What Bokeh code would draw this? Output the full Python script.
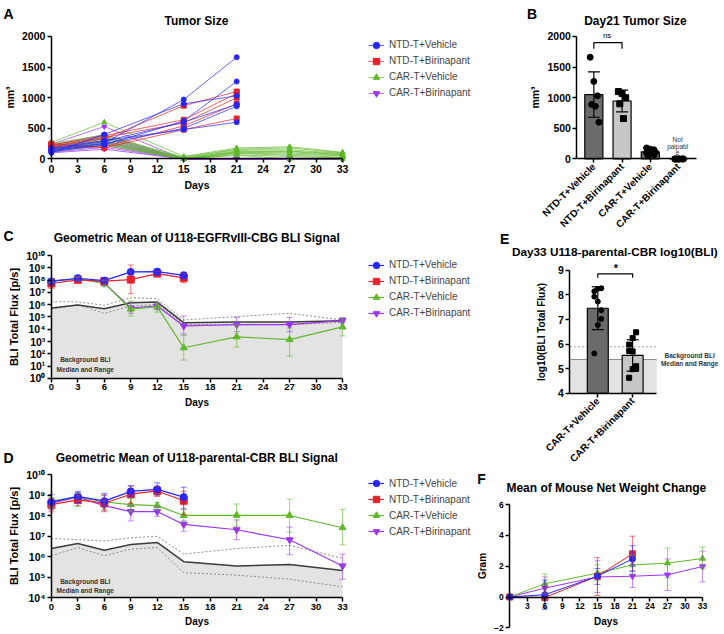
import math
import numpy as np
from bokeh.plotting import figure
from bokeh.models import (Range1d, FixedTicker, Label, Legend, LegendItem, Whisker,
                          ColumnDataSource, TeeHead, BoxAnnotation)
from bokeh.layouts import row, column
from bokeh.embed import file_html
from bokeh.resources import INLINE

FONT = "Liberation Sans"
SX = 722 / 724
SY = 632 / 634

# ---------------- data ----------------
groups = ["NTD-T+Vehicle", "NTD-T+Birinapant", "CAR-T+Vehicle", "CAR-T+Birinapant"]
colors = ["#2626ff", "#e5222b", "#62b82d", "#9b35f0"]
markers = ["circle", "square", "triangle", "inverted_triangle"]

# Panel A: individual tumour volumes (mm3)
days_a_ntd = [0, 6, 15, 21]
days_a_car = [0, 6, 15, 21, 27, 33]
a_ntd_vehicle = [
    [150, 260, 970, 1660],
    [120, 230, 620, 1265],
    [100, 400, 900, 1030],
    [160, 290, 600, 890],
    [130, 250, 500, 860],
    [180, 300, 480, 600],
]
a_ntd_birinapant = [
    [200, 330, 870, 1100],
    [230, 380, 640, 1070],
    [210, 350, 590, 1000],
    [190, 200, 540, 900],
    [250, 180, 480, 660],
]
a_car_vehicle = [
    [270, 600, 40, 180, 200, 110],
    [250, 390, 30, 160, 180, 100],
    [230, 370, 20, 150, 150, 90],
    [210, 350, 10, 130, 130, 80],
    [190, 330, 0, 120, 120, 70],
    [180, 300, 0, 110, 100, 60],
    [160, 280, 0, 100, 80, 50],
    [150, 260, 0, 90, 60, 30],
    [140, 240, 0, 70, 40, 20],
    [120, 220, 0, 60, 0, 0],
]
a_car_birinapant = [
    [240, 530, 0, 0, 0, 0],
    [220, 400, 0, 0, 0, 0],
    [200, 360, 0, 0, 0, 0],
    [180, 330, 0, 0, 0, 0],
    [170, 300, 0, 0, 0, 0],
    [150, 280, 0, 0, 0, 0],
    [140, 250, 0, 0, 0, 0],
    [120, 220, 0, 0, 0, 0],
    [110, 190, 0, 0, 0, 0],
    [100, 160, 0, 0, 0, 0],
]
a_yticks = [0, 500, 1000, 1500, 2000]
day_ticks = list(range(0, 34, 3))

# Panel B: day-21 tumour size, taken from the day-21 column of panel A
b_sig_level = 1898
b_sig_drop = 1800

# Panel C: geometric mean log10(BLI) of U118-EGFRvIII-CBG
days_ntd = [0, 3, 6, 9, 12, 15]
days_car = [0, 3, 6, 9, 12, 15, 21, 27, 33]
c_ntd_vehicle = [7.90, 8.16, 7.97, 8.68, 8.70, 8.40]
c_ntd_vehicle_lo = [7.68, 7.95, 7.75, 8.50, 8.40, 8.10]
c_ntd_vehicle_hi = [8.10, 8.40, 8.20, 8.85, 8.95, 8.65]
c_ntd_birinapant = [7.73, 8.03, 7.92, 8.05, 8.54, 8.19]
c_ntd_birinapant_lo = [7.34, 7.85, 7.70, 6.90, 8.35, 7.78]
c_ntd_birinapant_hi = [8.00, 8.20, 8.10, 9.24, 8.70, 8.54]
c_car_vehicle = [7.95, 8.11, 7.76, 5.65, 5.84, 2.49, 3.38, 3.16, 4.19]
c_car_vehicle_lo = [7.80, 7.95, 7.45, 5.08, 5.40, 1.49, 2.55, 1.80, 3.46]
c_car_vehicle_hi = [8.10, 8.25, 8.00, 6.30, 6.16, 3.51, 4.40, 4.10, 4.95]
c_car_birinapant = [7.95, 8.10, 7.78, 5.73, 5.90, 4.27, 4.38, 4.38, 4.70]
c_car_birinapant_lo = [7.80, 7.90, 7.55, 5.30, 5.60, 3.60, 3.80, 3.80, 4.50]
c_car_birinapant_hi = [8.10, 8.30, 8.00, 6.20, 6.15, 5.08, 4.95, 4.95, 4.95]
c_bg_median = [5.73, 5.97, 5.68, 6.16, 6.22, 4.54, 4.60, 4.60, 4.70]
c_bg_max = [6.24, 6.24, 5.95, 6.57, 6.49, 4.76, 5.03, 5.30, 4.76]
c_bg_min = [5.62, 6.00, 5.30, 5.89, 6.03, 4.40, 4.35, 4.38, 4.57]
c_decades = list(range(0, 11))

# Panel D: geometric mean log10(BLI) of U118-parental-CBR
d_ntd_vehicle = [8.68, 8.95, 8.72, 9.20, 9.30, 8.92]
d_ntd_vehicle_lo = [8.30, 8.65, 8.45, 8.95, 9.00, 8.35]
d_ntd_vehicle_hi = [9.05, 9.20, 9.10, 9.48, 9.62, 9.40]
d_ntd_birinapant = [8.55, 8.78, 8.62, 9.06, 9.22, 8.74]
d_ntd_birinapant_lo = [8.20, 8.50, 8.25, 8.60, 8.95, 8.05]
d_ntd_birinapant_hi = [8.85, 9.00, 9.00, 9.45, 9.45, 9.20]
d_car_vehicle = [8.72, 8.93, 8.68, 8.55, 8.50, 8.02, 8.03, 8.02, 7.42]
d_car_vehicle_lo = [8.45, 8.45, 8.30, 8.20, 8.30, 7.70, 7.50, 7.20, 6.58]
d_car_vehicle_hi = [8.90, 9.10, 9.05, 8.85, 8.65, 8.30, 8.58, 8.82, 8.32]
d_car_birinapant = [8.62, 8.92, 8.50, 8.21, 8.21, 7.58, 7.32, 6.83, 5.55]
d_car_birinapant_lo = [8.40, 8.60, 8.20, 7.75, 7.98, 7.25, 6.83, 6.10, 4.90]
d_car_birinapant_hi = [8.80, 9.15, 8.75, 8.50, 8.45, 7.75, 7.80, 7.45, 6.13]
d_bg_median = [6.40, 6.65, 6.32, 6.60, 6.70, 5.76, 5.55, 5.62, 5.33]
d_bg_max = [6.89, 6.84, 6.77, 6.93, 7.00, 6.13, 6.40, 6.56, 5.92]
d_bg_min = [6.05, 6.45, 6.05, 6.37, 6.45, 5.22, 5.10, 4.90, 4.53]
d_decades = list(range(4, 11))

# Panel E: day-33 log10(BLI)
e_groups = ["CAR-T+Vehicle", "CAR-T+Birinapant"]
e_car_vehicle = [8.27, 8.25, 8.15, 7.93, 7.73, 7.38, 7.02, 6.78, 5.62]
e_car_birinapant = [6.48, 6.25, 5.98, 5.72, 5.70, 5.10, 5.00, 4.98, 4.63]
e_bg_median = 5.35
e_bg_max = 5.89
e_bg_min = 4.55
e_sig_level = 8.86
e_sig_drop = 8.70
e_yticks = [4, 5, 6, 7, 8, 9]

# Panel F: mean net weight change (g)
days_f_ntd = [0, 6, 15, 21]
days_f_car = [0, 6, 15, 21, 27, 33]
f_ntd_vehicle = [0, 0.15, 1.35, 2.47]
f_ntd_vehicle_lo = [0, -0.80, 0.82, 1.65]
f_ntd_vehicle_hi = [0, 1.10, 1.85, 3.33]
f_ntd_birinapant = [0, -0.03, 1.35, 2.80]
f_ntd_birinapant_lo = [0, -0.70, 0.10, 1.70]
f_ntd_birinapant_hi = [0, 0.70, 2.55, 3.95]
f_car_vehicle = [0, 0.86, 1.55, 2.08, 2.20, 2.50]
f_car_vehicle_lo = [0, 0.20, 1.05, 1.50, 1.25, 1.83]
f_car_vehicle_hi = [0, 1.50, 2.10, 2.70, 3.18, 3.25]
f_car_birinapant = [0, 0.58, 1.30, 1.35, 1.44, 1.98]
f_car_birinapant_lo = [0, -0.10, 0.30, 0.62, 0.42, 0.98]
f_car_birinapant_hi = [0, 1.30, 2.35, 2.10, 2.47, 2.98]
f_yticks = [-2, 0, 2, 4, 6]
f_xticks = list(range(3, 34, 3))

SUP = str.maketrans("0123456789", "⁰¹²³⁴⁵⁶⁷⁸⁹")


def pow_label(k):
    return "10" + str(k).translate(SUP)


# ---------------- helpers ----------------
LEFT_W = 472
RIGHT_W = 722 - LEFT_W


def make_fig(ox, oy, W, H, xmap, ymap, log=False):
    """xmap/ymap: (data0, ref0, data1, ref1) -> the frame fills the whole canvas."""
    d0, r0, d1, r1 = xmap
    c0, c1 = r0 * SX - ox, r1 * SX - ox
    kx = (d1 - d0) / (c1 - c0)
    xs, xe = d0 - c0 * kx, d0 + (W - c0) * kx
    e0, q0, e1, q1 = ymap
    g0, g1 = q0 * SY - oy, q1 * SY - oy
    ky = (e1 - e0) / (g1 - g0)
    ytop, ybot = e0 - g0 * ky, e0 + (H - g0) * ky
    yr = Range1d(10 ** ybot, 10 ** ytop) if log else Range1d(ybot, ytop)
    p = figure(width=W, height=H, x_range=Range1d(xs, xe), y_range=yr,
               y_axis_type="log" if log else "linear",
               output_backend="svg", toolbar_location=None, min_border=0)
    p.title.visible = False
    p.outline_line_color = None
    p.grid.visible = False
    return p, dict(ox=ox, oy=oy, W=W, H=H)


def text(p, geo, s, rx, ry, size, style="bold", align="center", baseline="middle", color="black"):
    x = rx * SX - geo["ox"]
    y = geo["H"] - (ry * SY - geo["oy"])
    p.add_layout(Label(x=x, y=y, x_units="screen", y_units="screen", text=s,
                       text_font=FONT, text_font_size=size, text_font_style=style,
                       text_align=align, text_baseline=baseline, text_color=color))


def axes_style(p, xloc, yloc, xbounds, ybounds, tick_size="10px", label_size="10px"):
    for ax in p.axis:
        ax.axis_line_width = 1.5
        ax.axis_line_color = "black"
        ax.major_tick_line_width = 1.5
        ax.major_tick_line_color = "black"
        ax.major_tick_out = 4
        ax.major_tick_in = 0
        ax.minor_tick_line_color = None
        ax.major_label_text_font = FONT
        ax.major_label_text_font_style = "bold"
        ax.major_label_text_font_size = tick_size
        ax.major_label_text_color = "black"
        ax.major_label_standoff = 2
        ax.axis_label_text_font = FONT
        ax.axis_label_text_font_style = "bold"
        ax.axis_label_text_font_size = label_size
        ax.axis_label_text_color = "black"
        ax.axis_label_standoff = 3
    p.xaxis.fixed_location = xloc
    p.yaxis.fixed_location = yloc
    p.xaxis.bounds = xbounds
    p.yaxis.bounds = ybounds


def add_legend(p, geo, items, ref_left, ref_top):
    row_h = 16.5
    x = ref_left * SX - geo["ox"]
    ytop = geo["H"] - (ref_top * SY - geo["oy"])
    leg = Legend(items=items, location=(x, ytop - row_h * len(items)),
                 padding=0, margin=0, spacing=0, glyph_width=16, glyph_height=16,
                 label_height=16, label_standoff=5, label_text_font=FONT,
                 label_text_font_size="10px", border_line_color=None,
                 background_fill_alpha=0)
    p.add_layout(leg)


def series(p, days, vals, lo, hi, color, marker, size, lw, tf):
    ln = p.line(list(days), tf(vals), line_color=color, line_width=lw)
    keep = [i for i in range(len(days)) if hi[i] != lo[i]]
    src = ColumnDataSource(dict(x=[days[i] for i in keep],
                                lo=tf([lo[i] for i in keep]), hi=tf([hi[i] for i in keep])))
    p.add_layout(Whisker(source=src, base="x", upper="hi", lower="lo", dimension="height",
                         line_color=color, line_alpha=0.6, line_width=1, level="glyph",
                         upper_head=TeeHead(size=6, line_color=color, line_alpha=0.6, line_width=1),
                         lower_head=TeeHead(size=6, line_color=color, line_alpha=0.6, line_width=1)))
    sc = p.scatter(list(days), tf(vals), marker=marker, size=size, fill_color=color, line_color=color)
    return ln, sc


def log_tf(v):
    return [10 ** a for a in v]


def lin_tf(v):
    return list(v)


# ---------------- Panel A ----------------
pA, gA = make_fig(0, 0, LEFT_W, 199, (0, 51, 33, 343), (0, 159, 2000, 36))
a_sets = [(days_a_ntd, a_ntd_vehicle), (days_a_ntd, a_ntd_birinapant),
          (days_a_car, a_car_vehicle), (days_a_car, a_car_birinapant)]
a_items = [None] * 4
for gi in [3, 2, 1, 0]:
    days, mice = a_sets[gi]
    ml = pA.multi_line([list(days)] * len(mice), [list(m) for m in mice],
                       line_color=colors[gi], line_alpha=0.7, line_width=1)
    xs = [d for m in mice for d in days]
    ys = [v for m in mice for v in m]
    sc = pA.scatter(xs, ys, marker=markers[gi], size=5, fill_color=colors[gi], line_color=colors[gi])
    a_items[gi] = LegendItem(label=groups[gi], renderers=[ml, sc])
axes_style(pA, 0, 0, (day_ticks[0], day_ticks[-1]), (a_yticks[0], a_yticks[-1]),
           tick_size="10.5px", label_size="10.5px")
pA.xaxis.ticker = FixedTicker(ticks=day_ticks)
pA.yaxis.ticker = FixedTicker(ticks=a_yticks)
pA.xaxis.axis_label = "Days"
pA.yaxis.axis_label = "mm³"
add_legend(pA, gA, a_items, 369, 34.7)
text(pA, gA, "A", 3, 13.5, "14px", align="left", baseline="alphabetic")
text(pA, gA, "Tumor Size", 196.5, 20.5, "12px", baseline="alphabetic")

# ---------------- Panel B ----------------
pB, gB = make_fig(LEFT_W, 0, RIGHT_W, 229, (-0.6, 578, 3.64, 698), (0, 159, 2000, 36))
b_sets = [[m[days_a_ntd.index(21)] for m in a_ntd_vehicle],
          [m[days_a_ntd.index(21)] for m in a_ntd_birinapant],
          [m[days_a_car.index(21)] for m in a_car_vehicle],
          [m[days_a_car.index(21)] for m in a_car_birinapant]]
b_pos = list(range(len(groups)))
b_mean = [float(np.mean(v)) for v in b_sets]
b_sd = [float(np.std(v, ddof=1)) for v in b_sets]
bar_colors = ["#6b6b6b", "#c6c6c6", "#6b6b6b", "#c6c6c6"]
pB.vbar(x=b_pos, top=b_mean, bottom=0, width=0.64, fill_color=bar_colors,
        line_color="black", line_width=1.2)
wsrc = ColumnDataSource(dict(x=[b_pos[i] for i in range(4) if b_sd[i] > 0],
                             lo=[b_mean[i] - b_sd[i] for i in range(4) if b_sd[i] > 0],
                             hi=[b_mean[i] + b_sd[i] for i in range(4) if b_sd[i] > 0]))
pB.add_layout(Whisker(source=wsrc, base="x", upper="hi", lower="lo", line_color="black",
                      line_width=1.2, level="glyph",
                      upper_head=TeeHead(size=12, line_color="black", line_width=1.2),
                      lower_head=TeeHead(size=12, line_color="black", line_width=1.2)))
b_markers = ["circle", "square", "circle", "circle"]
for gi, vals in enumerate(b_sets):
    n = len(vals)
    jit = [((k % 3) - 1) * 0.13 + ((k // 3) % 2) * 0.05 for k in range(n)]
    pB.scatter([b_pos[gi] + j for j in jit], vals, marker=b_markers[gi], size=6,
               fill_color="black", line_color="black")
pB.line([b_pos[0], b_pos[0], b_pos[1], b_pos[1]], [b_sig_drop, b_sig_level, b_sig_level, b_sig_drop],
        line_color="black", line_width=1.2)
axes_style(pB, 0, -0.6, (-0.6, 3.64), (a_yticks[0], a_yticks[-1]),
           tick_size="10.5px", label_size="10.5px")
pB.xaxis.ticker = FixedTicker(ticks=b_pos)
pB.xaxis.major_label_overrides = {i: g for i, g in enumerate(groups)}
pB.xaxis.major_label_orientation = math.pi / 4
pB.xaxis.major_label_text_font_size = "10px"
pB.yaxis.ticker = FixedTicker(ticks=a_yticks)
pB.yaxis.axis_label = "mm³"
text(pB, gB, "B", 528, 13.5, "14px", align="left", baseline="alphabetic")
text(pB, gB, "Day21 Tumor Size", 636.7, 20.5, "12px", baseline="alphabetic")
text(pB, gB, "ns", 608.3, 35, "8px", style="normal")
text(pB, gB, "Not", 679, 139, "6.5px", style="normal", color="#333333")
text(pB, gB, "palpabl", 679, 146, "6.5px", style="normal", color="#333333")
text(pB, gB, "e", 679, 152.5, "6.5px", style="normal", color="#333333")


# ---------------- Panels C and D ----------------
def bli_panel(oy, H, ymap, decades, ntd_v, ntd_v_lo, ntd_v_hi, ntd_b, ntd_b_lo, ntd_b_hi,
              car_v, car_v_lo, car_v_hi, car_b, car_b_lo, car_b_hi, bg_med, bg_max, bg_min):
    p, g = make_fig(0, oy, LEFT_W, H, (0, 51, 33, 343), ymap, log=True)
    ymin = 10.0 ** decades[0]
    p.varea(x=days_car, y1=[ymin] * len(days_car), y2=log_tf(bg_med),
            fill_color="#e3e3e3", level="underlay")
    p.line(days_car, log_tf(bg_max), line_color="#8c8c8c", line_width=1, line_dash="2 2", level="underlay")
    p.line(days_car, log_tf(bg_min), line_color="#8c8c8c", line_width=1, line_dash="2 2", level="underlay")
    p.line(days_car, log_tf(bg_med), line_color="#3c3c3c", line_width=1.5, level="underlay")
    sets = [(days_ntd, ntd_v, ntd_v_lo, ntd_v_hi), (days_ntd, ntd_b, ntd_b_lo, ntd_b_hi),
            (days_car, car_v, car_v_lo, car_v_hi), (days_car, car_b, car_b_lo, car_b_hi)]
    items = [None] * 4
    for gi in [3, 2, 1, 0]:
        d, v, lo, hi = sets[gi]
        ln, sc = series(p, d, v, lo, hi, colors[gi], markers[gi], 7, 1.2, log_tf)
        items[gi] = LegendItem(label=groups[gi], renderers=[ln, sc])
    axes_style(p, ymin, 0, (day_ticks[0], day_ticks[-1]), (ymin, 10.0 ** decades[-1]),
               tick_size="9.5px", label_size="11px")
    p.yaxis.major_label_text_font_size = "10.5px"
    p.xaxis.ticker = FixedTicker(ticks=day_ticks)
    p.yaxis.ticker = FixedTicker(ticks=[10.0 ** k for k in decades])
    p.yaxis.major_label_overrides = {10.0 ** k: pow_label(k) for k in decades}
    p.xaxis.axis_label = "Days"
    p.xaxis.axis_label_text_font_size = "10px"
    p.yaxis.axis_label = "BLI Total Flux [p/s]"
    return p, g, items


pC, gC, c_items = bli_panel(199, 218, (0, 379, 10, 256), c_decades,
                            c_ntd_vehicle, c_ntd_vehicle_lo, c_ntd_vehicle_hi,
                            c_ntd_birinapant, c_ntd_birinapant_lo, c_ntd_birinapant_hi,
                            c_car_vehicle, c_car_vehicle_lo, c_car_vehicle_hi,
                            c_car_birinapant, c_car_birinapant_lo, c_car_birinapant_hi,
                            c_bg_median, c_bg_max, c_bg_min)
add_legend(pC, gC, c_items, 369, 255.7)
text(pC, gC, "C", 3, 236.5, "14px", align="left", baseline="alphabetic")
text(pC, gC, "Geometric Mean of U118-EGFRvIII-CBG BLI Signal", 196.8, 238.5, "12px", baseline="alphabetic")
text(pC, gC, "Background BLI", 85, 360.3, "6.5px", color="#333333")
text(pC, gC, "Median and Range", 85, 370.6, "6.5px", color="#333333")

pD, gD, d_items = bli_panel(417, 215, (4, 599, 10, 476), d_decades,
                            d_ntd_vehicle, d_ntd_vehicle_lo, d_ntd_vehicle_hi,
                            d_ntd_birinapant, d_ntd_birinapant_lo, d_ntd_birinapant_hi,
                            d_car_vehicle, d_car_vehicle_lo, d_car_vehicle_hi,
                            d_car_birinapant, d_car_birinapant_lo, d_car_birinapant_hi,
                            d_bg_median, d_bg_max, d_bg_min)
add_legend(pD, gD, d_items, 369, 474.5)
text(pD, gD, "D", 3, 458.5, "14px", align="left", baseline="alphabetic")
text(pD, gD, "Geometric Mean of U118-parental-CBR BLI Signal", 196.8, 458.5, "12px", baseline="alphabetic")
text(pD, gD, "Background BLI", 85, 583.3, "6.5px", color="#333333")
text(pD, gD, "Median and Range", 85, 592.2, "6.5px", color="#333333")

# ---------------- Panel E ----------------
E_X0, E_X1, E_Y0 = -0.8, 1.69, 4
pE, gE = make_fig(LEFT_W, 229, RIGHT_W, 238, (E_X0, 571, E_X1, 658), (4, 394, 9, 270.7))
pE.add_layout(BoxAnnotation(left=E_X0, right=E_X1, bottom=E_Y0, top=e_bg_median,
                            fill_color="#e3e3e3", fill_alpha=1, line_color=None, level="underlay"))
pE.line([E_X0, E_X1], [e_bg_max, e_bg_max], line_color="#a0a0a0", line_dash="2 2", line_width=1, level="underlay")
pE.line([E_X0, E_X1], [e_bg_min, e_bg_min], line_color="#a0a0a0", line_dash="2 2", line_width=1, level="underlay")
pE.line([E_X0, E_X1], [e_bg_median, e_bg_median], line_color="#8e8e8e", line_width=2, level="underlay")
e_sets = [e_car_vehicle, e_car_birinapant]
e_pos = [0, 1]
e_mean = [float(np.mean(v)) for v in e_sets]
e_sd = [float(np.std(v, ddof=1)) for v in e_sets]
pE.vbar(x=e_pos, top=e_mean, bottom=E_Y0, width=0.6, fill_color=["#6b6b6b", "#c6c6c6"],
        line_color="black", line_width=1.2)
esrc = ColumnDataSource(dict(x=e_pos, lo=[m - s for m, s in zip(e_mean, e_sd)],
                             hi=[m + s for m, s in zip(e_mean, e_sd)]))
pE.add_layout(Whisker(source=esrc, base="x", upper="hi", lower="lo", line_color="black",
                      line_width=1.2, level="glyph",
                      upper_head=TeeHead(size=12, line_color="black", line_width=1.2),
                      lower_head=TeeHead(size=12, line_color="black", line_width=1.2)))
e_markers = ["circle", "square"]
for gi, vals in enumerate(e_sets):
    jit = [((k % 3) - 1) * 0.1 * ((k % 2) * 2 - 1) for k in range(len(vals))]
    pE.scatter([e_pos[gi] + j for j in jit], vals, marker=e_markers[gi], size=5,
               fill_color="black", line_color="black")
pE.line([e_pos[0], e_pos[0], e_pos[1], e_pos[1]], [e_sig_drop, e_sig_level, e_sig_level, e_sig_drop],
        line_color="black", line_width=1.2)
axes_style(pE, E_Y0, E_X0, (E_X0, E_X1), (e_yticks[0], e_yticks[-1]),
           tick_size="10.5px", label_size="10px")
pE.xaxis.ticker = FixedTicker(ticks=e_pos)
pE.xaxis.major_label_overrides = {i: g for i, g in enumerate(e_groups)}
pE.xaxis.major_label_orientation = math.pi / 4
pE.xaxis.major_label_text_font_size = "10px"
pE.yaxis.ticker = FixedTicker(ticks=e_yticks)
pE.yaxis.axis_label = "log10(BLI Total Flux)"
pE.yaxis.axis_label_standoff = 8
text(pE, gE, "E", 501, 239.5, "14px", align="left", baseline="alphabetic")
text(pE, gE, "Day33 U118-parental-CBR log10(BLI)", 616, 252.5, "11.8px", baseline="alphabetic")
text(pE, gE, "*", 617, 268, "11px")
text(pE, gE, "Background BLI", 691, 355.7, "6.5px", color="#333333")
text(pE, gE, "Median and Range", 691, 364.3, "6.5px", color="#333333")

# ---------------- Panel F ----------------
pF, gF = make_fig(LEFT_W, 467, RIGHT_W, 165, (0, 510.7, 33, 704), (-2, 629.3, 6, 505.7))
f_sets = [(days_f_ntd, f_ntd_vehicle, f_ntd_vehicle_lo, f_ntd_vehicle_hi),
          (days_f_ntd, f_ntd_birinapant, f_ntd_birinapant_lo, f_ntd_birinapant_hi),
          (days_f_car, f_car_vehicle, f_car_vehicle_lo, f_car_vehicle_hi),
          (days_f_car, f_car_birinapant, f_car_birinapant_lo, f_car_birinapant_hi)]
for gi in [3, 2, 1, 0]:
    d, v, lo, hi = f_sets[gi]
    series(pF, d, v, lo, hi, colors[gi], markers[gi], 6, 1, lin_tf)
axes_style(pF, 0, 0, (0, 33), (f_yticks[0], f_yticks[-1]), tick_size="8.5px", label_size="10px")
pF.xaxis.ticker = FixedTicker(ticks=f_xticks)
pF.yaxis.ticker = FixedTicker(ticks=f_yticks)
pF.xaxis.axis_label = "Days"
pF.yaxis.axis_label = "Gram"
text(pF, gF, "F", 478, 480.5, "14px", align="left", baseline="alphabetic")
text(pF, gF, "Mean of Mouse Net Weight Change", 607.5, 489.5, "12px", baseline="alphabetic")

layout = row(column(pA, pC, pD), column(pB, pE, pF))
open("out.html", "w").write(file_html(layout, INLINE))
